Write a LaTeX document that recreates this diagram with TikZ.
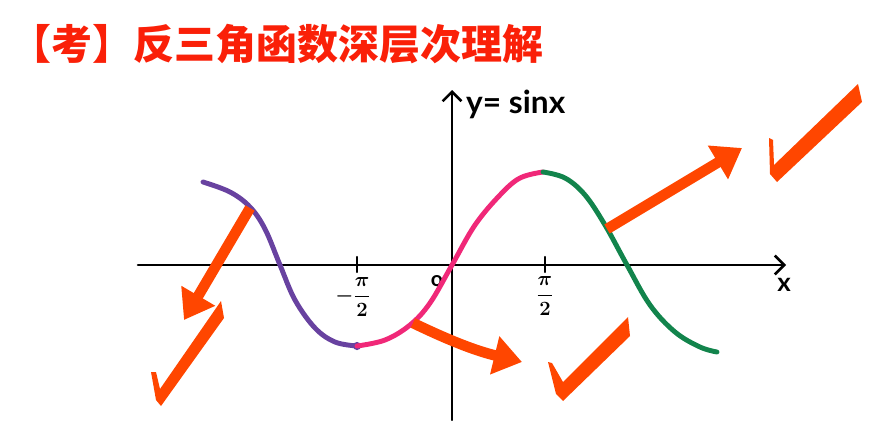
\documentclass[tikz,border=0pt]{standalone}
\usepackage{fontspec}
\usepackage{amsmath}
\usetikzlibrary{arrows.meta}
\newfontfamily\cjk{Noto Sans CJK SC}
\newfontfamily\handfont{Lato}
\definecolor{titlered}{RGB}{250,32,8}
\definecolor{markorange}{RGB}{255,70,0}
\definecolor{curvepurple}{RGB}{104,66,160}
\definecolor{curvepink}{RGB}{240,40,120}
\definecolor{curvegreen}{RGB}{18,132,76}

\begin{document}
\begin{tikzpicture}[x=0.03cm,y=-0.03cm,line cap=round,line join=round,
  axis/.style={line width=2.2pt,-{Straight Barb[length=8pt,width=16pt,line width=2.2pt]}},
  branch/.style={line width=4.2pt},
  hint/.style={line width=9pt,markorange,line cap=butt,-{Triangle[length=24pt,width=32pt]}},
  tick/.style={fill=markorange},
  hand/.style={font=\handfont\bfseries,inner sep=0pt}]
\useasboundingbox (0,0) rectangle (872,420);

% title
\node[anchor=west,inner sep=0pt,text=titlered,font=\cjk\bfseries\fontsize{35}{40}\selectfont] (title) at (10,44) {【考】反三角函数深层次理解};

% axes
\coordinate (O) at (452,265);
\coordinate (xs) at (138,265);
\coordinate (xe) at (786,265);
\coordinate (ys) at (452,420);
\coordinate (ye) at (452,90);
\draw[axis] (xs) -- (xe);
\draw[axis] (ys) -- (ye);
\node[hand,font=\handfont\bfseries\fontsize{22}{22}\selectfont] (xlab) at (784,285) {x};
\node[hand,anchor=west,font=\handfont\bfseries\fontsize{27}{27}\selectfont] (ylab) at (466,104) {y= sinx};
\draw[line width=2pt] (357,257) -- (357,272);
\draw[line width=2pt] (545,257) -- (545,272);
\node[hand,font=\fontsize{16}{16}\selectfont] (mpi) at (353,297) {$\boldsymbol{-\dfrac{\pi}{2}}$};
\node[hand,font=\fontsize{16}{16}\selectfont] (ppi) at (545,296) {$\boldsymbol{\dfrac{\pi}{2}}$};
\node[hand,font=\handfont\bfseries\fontsize{18}{18}\selectfont] (orig) at (437,281) {o};

% sine branches
\draw[branch,curvepurple] plot[smooth,tension=0.6] coordinates {(203,182) (230,192) (250,207) (265,229) (280,265) (295,300) (315,328) (335,342) (357,346)};
\fill[curvepurple] (357,346) circle (3.5pt);
\draw[branch,curvepink] plot[smooth,tension=0.6] coordinates {(357,346) (385,340) (410,325) (430,303) (452,265) (475,225) (500,195) (520,178) (543,172)};
\draw[branch,curvegreen] plot[smooth,tension=0.6] coordinates {(543,172) (565,178) (585,195) (605,225) (627,265) (650,305) (675,332) (700,347) (717,352)};

% arrows
\coordinate (a1s) at (250,208);
\coordinate (a1e) at (184,320);
\coordinate (a2s) at (413,323);
\coordinate (a2e) at (522,362);
\coordinate (a3s) at (607,229);
\coordinate (a3e) at (742,148);
\draw[hint] (a1s) -- (a1e);
\draw[hint] (a2s) to[bend right=6] (a2e);
\draw[hint] (a3s) -- (a3e);

% ticks
\fill[tick] (151,372) -- (156,400) -- (161,406) -- (224,318) -- (221,301) -- (160,389) -- (156,372) -- cycle;
\fill[tick] (548,362) -- (556,394) -- (563,401) -- (630,336) -- (628,317) -- (563,382) -- (552,363) -- cycle;
\fill[tick] (769,138) -- (770,174) -- (777,182) -- (862,102) -- (858,84) -- (774,165) -- (773,140) -- cycle;
\end{tikzpicture}
\end{document}
